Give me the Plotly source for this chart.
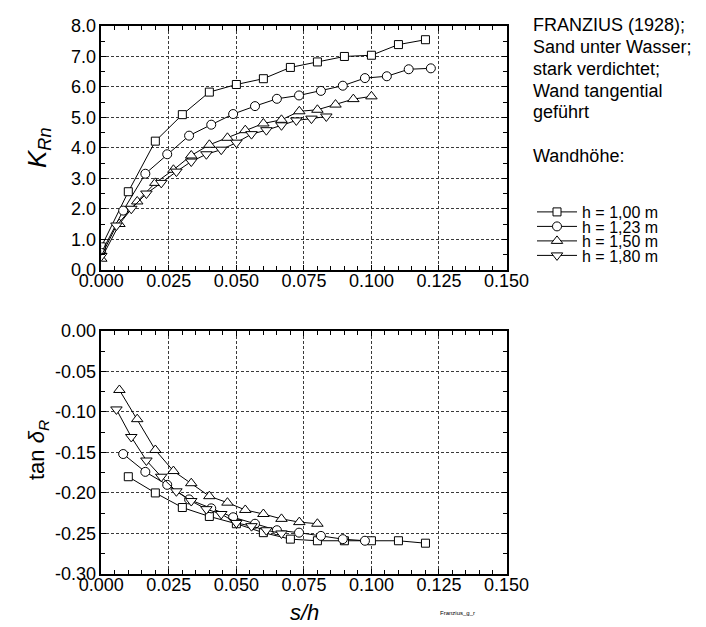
import plotly.graph_objects as go

# ---------------- data ----------------
series_names = ["h = 1,00 m", "h = 1,23 m", "h = 1,50 m", "h = 1,80 m"]
series_symbols = ["square", "circle", "triangle-up", "triangle-down"]

# top panel: K_Rn vs s/h
x_top_100 = [0.0, 0.01, 0.02, 0.03, 0.04, 0.05, 0.06, 0.07, 0.08, 0.09, 0.10, 0.11, 0.12]
k_top_100 = [0.75, 2.56, 4.22, 5.09, 5.83, 6.08, 6.27, 6.64, 6.82, 7.00, 7.04, 7.39, 7.55]

x_top_123 = [0.0, 0.0081, 0.0163, 0.0244, 0.0325, 0.0407, 0.0488, 0.0569, 0.065, 0.0732,
             0.0813, 0.0894, 0.0976, 0.1057, 0.1138, 0.122]
k_top_123 = [0.55, 1.94, 3.15, 3.79, 4.40, 4.76, 5.11, 5.37, 5.61, 5.72,
             5.87, 6.04, 6.29, 6.35, 6.58, 6.61]

x_top_150 = [0.0, 0.0067, 0.0133, 0.02, 0.0267, 0.0333, 0.04, 0.0467, 0.0533, 0.06,
             0.0667, 0.0733, 0.08, 0.0867, 0.0933, 0.10]
k_top_150 = [0.36, 1.50, 2.24, 2.85, 3.28, 3.75, 4.10, 4.33, 4.58, 4.80,
             4.92, 5.20, 5.25, 5.42, 5.60, 5.69]

x_top_180 = [0.0, 0.0056, 0.0111, 0.0167, 0.0222, 0.0278, 0.0333, 0.0389, 0.0444, 0.05,
             0.0556, 0.0611, 0.0667, 0.0722, 0.0778, 0.0833]
k_top_180 = [0.45, 1.45, 2.00, 2.50, 2.85, 3.22, 3.55, 3.79, 3.94, 4.17,
             4.45, 4.58, 4.74, 4.90, 4.96, 5.03]

# bottom panel: tan delta_R vs s/h
x_bot_100 = [0.01, 0.02, 0.03, 0.04, 0.05, 0.06, 0.07, 0.08, 0.09, 0.10, 0.11, 0.12]
t_bot_100 = [-0.180, -0.200, -0.218, -0.229, -0.238, -0.249, -0.257, -0.259, -0.259, -0.259, -0.259, -0.262]

x_bot_123 = [0.0081, 0.0163, 0.0244, 0.0325, 0.0407, 0.0488, 0.0569, 0.065, 0.0732, 0.0813, 0.0894, 0.0976]
t_bot_123 = [-0.152, -0.174, -0.190, -0.208, -0.219, -0.230, -0.238, -0.246, -0.249, -0.253, -0.257, -0.259]

x_bot_150 = [0.0067, 0.0133, 0.02, 0.0267, 0.0333, 0.04, 0.0467, 0.0533, 0.06, 0.0667, 0.0733, 0.08]
t_bot_150 = [-0.073, -0.109, -0.147, -0.173, -0.188, -0.204, -0.212, -0.221, -0.226, -0.232, -0.236, -0.238]

x_bot_180 = [0.0056, 0.0111, 0.0167, 0.0222, 0.0278, 0.0333, 0.0389, 0.0444, 0.05, 0.0556, 0.0611, 0.0667]
t_bot_180 = [-0.097, -0.131, -0.160, -0.180, -0.198, -0.210, -0.220, -0.226, -0.237, -0.241, -0.246, -0.250]

x_tickvals = [0.0, 0.025, 0.05, 0.075, 0.1, 0.125, 0.15]
x_ticktext = ["0.000", "0.025", "0.050", "0.075", "0.100", "0.125", "0.150"]
ytop_tickvals = [0, 1, 2, 3, 4, 5, 6, 7, 8]
ytop_ticktext = ["0.0", "1.0", "2.0", "3.0", "4.0", "5.0", "6.0", "7.0", "8.0"]
ybot_tickvals = [0.0, -0.05, -0.10, -0.15, -0.20, -0.25, -0.30]
ybot_ticktext = ["0.00", "-0.05", "-0.10", "-0.15", "-0.20", "-0.25", "-0.30"]

info_lines = ["FRANZIUS (1928);", "Sand unter Wasser;", "stark verdichtet;",
              "Wand tangential", "geführt", "Wandhöhe:"]

# ---------------- figure ----------------
FONT = "Arial, 'Liberation Sans', sans-serif"
W, H = 706, 627


def px_x(p):
    return p / W


def px_y(p):
    return 1 - p / H


top_sets = [(x_top_100, k_top_100), (x_top_123, k_top_123), (x_top_150, k_top_150), (x_top_180, k_top_180)]
bot_sets = [(x_bot_100, t_bot_100), (x_bot_123, t_bot_123), (x_bot_150, t_bot_150), (x_bot_180, t_bot_180)]
marker_sizes = [8, 9, 10, 10]
legend_ids = ["legend", "legend2", "legend3", "legend4"]
legend_rows = [204, 218.5, 233, 247.5]

fig = go.Figure()
for i, (xs, ys) in enumerate(top_sets):
    fig.add_trace(go.Scatter(
        x=xs, y=ys, mode="lines+markers", name=series_names[i],
        line=dict(color="black", width=1),
        marker=dict(symbol=series_symbols[i], size=marker_sizes[i],
                    color="white", line=dict(color="black", width=1)),
        xaxis="x", yaxis="y", showlegend=True, legend=legend_ids[i]))
for i, (xs, ys) in enumerate(bot_sets):
    fig.add_trace(go.Scatter(
        x=xs, y=ys, mode="lines+markers", name=series_names[i],
        line=dict(color="black", width=1),
        marker=dict(symbol=series_symbols[i], size=marker_sizes[i],
                    color="white", line=dict(color="black", width=1)),
        xaxis="x2", yaxis="y2", showlegend=False))

xdom = [px_x(93.3), px_x(498.5)]
GRID = dict(showgrid=True, gridcolor="#3a3a3a", griddash="3px,2px", gridwidth=1)
common_x = dict(
    range=[0, 0.15], domain=xdom, tickvals=x_tickvals, ticktext=x_ticktext,
    ticks="inside", ticklen=5, tickwidth=1, tickcolor="black",
    showline=True, linecolor="black", linewidth=1.5, mirror="ticks",
    zeroline=False, tickfont=dict(family=FONT, size=18, color="black"),
    ticklabelstandoff=-6,
    minor=dict(dtick=0.005, tick0=0, ticks="inside", ticklen=4, tickcolor="black", showgrid=False),
    **GRID,
)
common_y = dict(
    ticks="inside", ticklen=5, tickwidth=1, tickcolor="black",
    showline=True, linecolor="black", linewidth=1.5, mirror="ticks",
    zeroline=False, tickfont=dict(family=FONT, size=18, color="black"),
    **GRID,
)

layout_legends = {}
for lid, row in zip(legend_ids, legend_rows):
    layout_legends[lid] = dict(
        x=px_x(524), y=px_y(row), xanchor="left", yanchor="middle",
        font=dict(family=FONT, size=16, color="black"),
        bgcolor="rgba(0,0,0,0)", borderwidth=0, itemwidth=40)

fig.update_layout(
    width=W, height=H,
    margin=dict(l=0, r=0, t=0, b=0, autoexpand=False),
    paper_bgcolor="white", plot_bgcolor="white",
    font=dict(family=FONT, color="black"),
    xaxis=dict(common_x, anchor="y"),
    xaxis2=dict(common_x, anchor="y2"),
    yaxis=dict(common_y, range=[0, 8], domain=[px_y(261.7), px_y(18)], anchor="x",
               tickvals=ytop_tickvals, ticktext=ytop_ticktext,
               minor=dict(dtick=0.5, tick0=0, ticks="inside", ticklen=4, tickcolor="black", showgrid=False)),
    yaxis2=dict(common_y, range=[-0.30, 0.0], domain=[px_y(566), px_y(322.8)], anchor="x2",
                tickvals=ybot_tickvals, ticktext=ybot_ticktext,
                minor=dict(dtick=0.025, tick0=0, ticks="inside", ticklen=4, tickcolor="black", showgrid=False)),
    **layout_legends,
)

annos = []
line_y = [17, 39, 61, 83, 104, 148]
for txt, yy in zip(info_lines, line_y):
    annos.append(dict(text=txt, x=px_x(523), y=px_y(yy), xref="paper", yref="paper",
                      xanchor="left", yanchor="middle", showarrow=False,
                      font=dict(family=FONT, size=18, color="black")))
# axis titles
annos.append(dict(text="<i>K</i><sub><i>Rn</i></sub>", x=px_x(30), y=px_y(140), xref="paper", yref="paper",
                  textangle=-90, showarrow=False, xanchor="center", yanchor="middle",
                  font=dict(family=FONT, size=26, color="black")))
annos.append(dict(text="tan <i>δ</i><sub><i>R</i></sub>", x=px_x(30), y=px_y(442), xref="paper", yref="paper",
                  textangle=-90, showarrow=False, xanchor="center", yanchor="middle",
                  font=dict(family=FONT, size=22, color="black")))
annos.append(dict(text="<i>s/h</i>", x=px_x(296), y=px_y(604), xref="paper", yref="paper",
                  showarrow=False, xanchor="center", yanchor="middle",
                  font=dict(family=FONT, size=22, color="black")))
annos.append(dict(text="Franzius_g_r", x=px_x(430), y=px_y(605), xref="paper", yref="paper",
                  showarrow=False, xanchor="left", yanchor="middle",
                  font=dict(family=FONT, size=6, color="black")))
fig.update_layout(annotations=annos)

fig.write_html("out.html")
